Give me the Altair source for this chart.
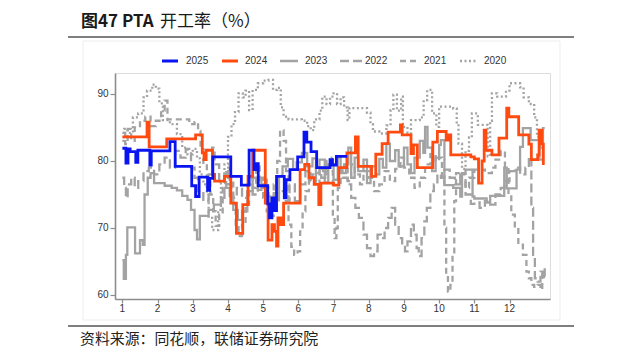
import altair as alt
import pandas as pd

TITLE_A = "图47 PTA"
TITLE_B = "开工率（%）"
SOURCE = "资料来源：同花顺，联储证券研究院"
YEARS = ["2025", "2024", "2023", "2022", "2021", "2020"]
COLORS = {"2025": "#0A14F0", "2024": "#FF4A10", "2023": "#A3A3A3",
          "2022": "#A3A3A3", "2021": "#A3A3A3", "2020": "#A3A3A3"}
DASHES = {"2025": [1, 0], "2024": [1, 0], "2023": [1, 0],
          "2022": [9, 4], "2021": [6, 4], "2020": [2, 2.5]}
X_TICKS = list(range(1, 13))
Y_TICKS = [60, 70, 80, 90]

# month position (1 = Jan 1) and operating rate (%)
x2025 = [1.0, 1.1, 1.16, 1.22, 1.38, 1.44, 1.78, 1.82, 2.35, 2.5, 2.97, 3.08, 3.18, 3.42, 3.48, 3.57,
         4.08, 4.38, 4.6, 4.74, 4.8, 4.86, 5.13, 5.18, 5.25, 5.32, 5.38, 5.6, 5.65, 5.76, 5.98, 6.16,
         6.24, 6.36, 6.52, 6.9, 6.97, 7.08, 7.38]
v2025 = [81.9, 79.7, 81.8, 81.4, 79.8, 81.6, 79.4, 81.5, 82.9, 79.2, 76.3, 74.7, 77.6, 75.6, 77.4, 80.6,
         77.7, 76.4, 81.6, 78.7, 79.6, 76.3, 73.6, 71.5, 74.5, 72.6, 77.7, 74.5, 77.2, 78.7, 80.6, 84.3,
         82.8, 81.4, 79.0, 80.2, 79.4, 80.7, 80.7]

x2024 = [1.0, 1.7, 1.76, 2.26, 3.08, 3.27, 3.32, 3.38, 3.56, 3.62, 3.9, 4.08, 4.24, 4.42, 4.57, 4.7,
         5.06, 5.14, 5.25, 5.32, 5.38, 5.42, 5.5, 5.58, 6.05, 6.18, 6.3, 6.45, 6.58, 6.64, 7.0, 7.15,
         7.38, 7.62, 7.7, 8.08, 8.2, 8.38, 8.55, 8.9, 8.95, 9.2, 9.27, 9.38, 9.82, 9.95, 10.2, 10.28,
         10.33, 10.9, 11.0, 11.12, 11.22, 11.28, 11.33, 11.5, 11.7, 11.92, 11.98, 12.26, 12.55, 12.62,
         12.8, 12.84, 12.92, 12.96, 13.0]
v2024 = [83.6, 85.8, 82.1, 83.3, 83.9, 81.2, 80.2, 81.6, 78.0, 77.0, 77.7, 73.7, 69.2, 73.5, 77.7, 81.6,
         73.7, 68.2, 70.5, 69.5, 67.3, 71.5, 70.5, 73.7, 78.7, 79.5, 77.5, 76.5, 73.5, 76.7, 76.4, 79.0,
         81.2, 83.6, 79.2, 77.7, 81.0, 82.6, 84.3, 85.4, 83.9, 81.1, 82.4, 79.0, 82.8, 84.4, 83.1, 83.9,
         80.9, 80.6, 80.3, 76.7, 80.0, 84.6, 81.6, 80.9, 83.4, 87.9, 86.6, 83.9, 82.5, 80.2, 80.9, 84.6,
         82.5, 79.6, 79.6]

x2023 = [1.0, 1.04, 1.1, 1.14, 1.36, 1.5, 1.58, 1.63, 1.72, 1.8, 1.9, 2.2, 2.4, 2.55, 2.7, 2.85, 2.95,
         3.05, 3.12, 3.2, 3.45, 3.6, 3.8, 3.9, 4.05, 4.15, 4.28, 4.4, 4.55, 4.7, 4.85, 4.95, 5.1, 5.2,
         5.3, 5.45, 5.55, 5.7, 5.85, 5.95, 6.1, 6.25, 6.4, 6.5, 6.6, 6.75, 6.85, 7.0, 7.12, 7.2, 7.35,
         7.42, 7.5, 7.6, 7.7, 7.85, 7.95, 8.05, 8.2, 8.3, 8.4, 8.5, 8.6, 8.75, 8.85, 9.0, 9.1, 9.2, 9.3,
         9.45, 9.55, 9.6, 9.67, 9.8, 9.9, 10.0, 10.05, 10.15, 10.4, 10.6, 10.65, 10.75, 10.95, 11.0,
         11.35, 11.45, 11.85, 11.92, 12.2, 12.3, 12.38, 12.6, 12.85, 12.95, 13.0]
v2023 = [65.2, 62.4, 66.0, 70.1, 66.2, 68.2, 67.5, 75.0, 77.5, 78.2, 76.7, 76.3, 76.0, 75.6, 74.8, 74.2,
         72.7, 69.7, 68.3, 71.8, 72.7, 73.5, 74.5, 76.0, 74.8, 72.7, 71.2, 72.5, 75.5, 77.5, 75.7, 77.2,
         74.7, 73.2, 75.2, 77.7, 79.2, 80.3, 78.7, 79.8, 81.2, 79.2, 80.4, 78.2, 80.2, 76.8, 79.5, 77.2,
         80.5, 78.2, 79.5, 82.0, 77.5, 80.5, 78.5, 80.2, 76.7, 79.2, 78.0, 80.3, 79.0, 82.6, 80.0, 81.6,
         79.2, 82.0, 79.5, 78.2, 80.5, 83.0, 81.2, 85.1, 82.0, 78.5, 80.5, 82.4, 83.1, 76.4, 76.0, 74.7,
         78.2, 78.7, 74.7, 74.4, 73.8, 74.8, 79.0, 75.9, 78.7, 82.1, 84.9, 83.1, 80.2, 84.9, 84.9]

x2022 = [1.0, 1.05, 1.1, 1.15, 1.25, 1.35, 1.45, 1.6, 1.75, 1.9, 2.05, 2.2, 2.35, 2.5, 2.65, 2.8, 2.95,
         3.05, 3.15, 3.3, 3.45, 3.55, 3.62, 3.75, 3.9, 4.0, 4.1, 4.25, 4.4, 4.55, 4.7, 4.85, 5.0, 5.15,
         5.3, 5.45, 5.6, 5.75, 5.9, 6.05, 6.2, 6.35, 6.5, 6.65, 6.8, 6.95, 7.1, 7.25, 7.4, 7.5, 7.62,
         7.72, 7.85, 7.95, 8.05, 8.15, 8.25, 8.35, 8.45, 8.55, 8.65, 8.75, 8.85, 8.95, 9.03, 9.1, 9.2,
         9.28, 9.36, 9.42, 9.5, 9.58, 9.65, 9.75, 9.85, 9.95, 10.05, 10.15, 10.3, 10.45, 10.6, 10.75,
         10.9, 11.0, 11.15, 11.3, 11.45, 11.6, 11.75, 11.85, 12.0, 12.15, 12.3, 12.45, 12.55, 12.62,
         12.67, 12.72, 12.8, 12.88, 12.95, 13.0]
v2022 = [77.5, 76.0, 74.5, 76.5, 77.5, 76.0, 77.0, 78.5, 79.0, 78.0, 79.5, 80.5, 79.0, 81.5, 80.5, 81.8,
         79.0, 77.5, 75.5, 74.0, 78.0, 82.0, 79.5, 77.0, 78.5, 76.5, 74.5, 76.0, 74.5, 76.5, 75.0, 77.5,
         76.0, 74.5, 73.5, 75.5, 74.0, 76.5, 74.0, 76.5, 78.5, 77.0, 79.0, 77.5, 79.5, 80.5, 79.0, 77.5,
         76.5, 74.5, 73.0, 71.5, 69.0, 67.0, 65.8, 66.5, 69.0, 68.5, 70.0, 71.5, 73.0, 70.5, 68.5, 67.5,
         66.5, 68.0, 70.5, 69.0, 67.0, 65.8, 68.5, 71.0, 73.0, 75.5, 76.5, 78.0, 77.5, 78.7, 77.5, 76.5,
         78.0, 75.0, 73.6, 73.8, 73.0, 74.0, 73.5, 75.0, 76.0, 77.0, 78.5, 79.0, 78.0, 79.0, 80.6, 73.0,
         66.0, 62.5, 62.0, 63.5, 62.5, 64.0]

x2021 = [1.0, 1.08, 1.15, 1.25, 1.35, 1.5, 1.65, 1.8, 1.95, 2.1, 2.2, 2.28, 2.9, 3.05, 3.15, 3.22, 3.3,
         3.4, 3.5, 3.58, 3.65, 3.75, 3.85, 3.95, 4.05, 4.15, 4.22, 4.3, 4.4, 4.5, 4.6, 4.7, 4.8, 4.9,
         5.0, 5.1, 5.2, 5.3, 5.4, 5.48, 5.58, 5.65, 5.72, 5.8, 5.88, 5.98, 6.05, 6.12, 6.2, 6.3, 6.4,
         6.5, 6.6, 6.7, 6.8, 6.9, 6.98, 7.03, 7.08, 7.12, 7.2, 7.3, 7.4, 7.5, 7.6, 7.75, 7.85, 8.0, 8.15,
         8.3, 8.45, 8.6, 8.75, 8.9, 9.0, 9.15, 9.3, 9.45, 9.6, 9.75, 9.9, 10.0, 10.08, 10.15, 10.2, 10.25,
         10.32, 10.38, 10.43, 10.48, 10.6, 10.75, 10.85, 11.0, 11.3, 11.5, 11.6, 11.75, 11.87, 11.97,
         12.05, 12.15, 12.25, 12.38, 12.48, 12.55, 12.62, 12.7, 12.8, 12.88, 12.93, 12.98]
v2021 = [84.2, 82.5, 84.8, 83.0, 85.0, 86.0, 86.6, 85.2, 86.0, 87.5, 89.0, 86.2, 85.5, 85.8, 84.5, 82.0,
         79.5, 77.5, 75.0, 72.5, 70.3, 72.0, 76.0, 79.0, 77.0, 73.5, 70.5, 68.8, 70.5, 73.5, 77.5, 76.0,
         79.2, 76.5, 74.5, 72.5, 71.8, 76.5, 80.0, 84.6, 83.0, 78.5, 70.5, 67.2, 66.0, 66.5, 69.5, 72.5,
         75.5, 77.5, 78.0, 76.5, 79.0, 78.0, 80.0, 78.5, 72.0, 68.5, 70.0, 76.0, 78.5, 79.5, 77.0, 79.5,
         78.0, 76.5, 78.5, 77.5, 75.5, 76.5, 78.5, 77.0, 78.8, 80.5, 79.0, 77.5, 76.0, 77.5, 79.5, 81.0,
         80.0, 80.5, 77.0, 70.0, 63.0, 60.5, 61.5, 66.0, 74.0, 78.2, 77.0, 76.0, 77.5, 78.7, 78.2, 79.0,
         80.2, 81.5, 79.0, 75.0, 72.0, 70.0, 67.5, 66.0, 63.5, 62.5, 61.5, 61.2, 61.5, 60.8, 63.5, 62.5]

x2020 = [1.0, 1.05, 1.15, 1.3, 1.45, 1.6, 1.7, 1.85, 1.95, 2.05, 2.15, 2.35, 2.55, 2.7, 2.85, 3.0, 3.12,
         3.2, 3.3, 3.4, 3.45, 3.55, 3.72, 3.8, 3.9, 4.0, 4.1, 4.2, 4.3, 4.42, 4.5, 4.6, 4.7, 4.85, 5.0,
         5.15, 5.28, 5.4, 5.5, 5.58, 5.72, 6.1, 6.25, 6.35, 6.45, 6.6, 6.68, 6.8, 6.9, 7.0, 7.1, 7.2,
         7.3, 7.4, 7.45, 7.95, 8.05, 8.12, 8.3, 8.5, 8.62, 8.7, 8.8, 8.92, 8.97, 9.1, 9.2, 9.45, 9.56,
         9.66, 9.8, 9.92, 10.0, 10.4, 10.5, 10.55, 10.65, 10.75, 10.85, 10.93, 11.1, 11.38, 11.45, 11.5,
         11.65, 11.9, 12.0, 12.3, 12.4, 12.55, 12.7, 12.78, 12.87, 12.97]
v2020 = [83.0, 84.8, 84.2, 86.5, 87.1, 89.5, 90.5, 91.4, 90.8, 88.6, 86.1, 85.5, 84.0, 82.0, 81.0, 81.8,
         80.4, 78.0, 76.5, 75.2, 71.5, 69.7, 72.7, 76.7, 79.5, 83.6, 85.5, 87.3, 90.1, 89.5, 90.5, 87.6,
         90.6, 91.6, 92.0, 92.1, 90.6, 90.9, 88.0, 86.6, 86.2, 86.0, 85.2, 84.6, 86.2, 87.5, 89.6, 88.5,
         89.6, 90.1, 88.5, 89.5, 88.0, 86.1, 87.9, 87.2, 85.5, 84.4, 84.1, 85.3, 87.6, 89.9, 87.5, 89.6,
         85.1, 84.1, 86.1, 86.5, 89.1, 90.6, 87.1, 85.1, 88.1, 87.8, 85.5, 82.6, 78.8, 81.5, 83.5, 87.1,
         85.4, 80.7, 86.0, 90.1, 89.6, 90.5, 91.6, 91.0, 89.5, 88.5, 86.5, 83.6, 82.0, 82.0]

SERIES = {"2025": (x2025, v2025), "2024": (x2024, v2024), "2023": (x2023, v2023),
          "2022": (x2022, v2022), "2021": (x2021, v2021), "2020": (x2020, v2020)}

W, H = 435, 226
X_DOMAIN = [0.79, 13.15]
Y_DOMAIN = [59.4, 93.13]
FONT = "Liberation Sans"
CJK = "Noto Sans CJK SC"

xs = alt.Scale(domain=X_DOMAIN, nice=False, zero=False)
ys = alt.Scale(domain=Y_DOMAIN, nice=False, zero=False)

X_AXIS = alt.Axis(values=X_TICKS, title=None, grid=False, domainColor="#8c8c8c",
                  domainWidth=1.6, tickColor="#8c8c8c", tickWidth=1.2, tickSize=4, labels=False)
Y_AXIS = alt.Axis(values=Y_TICKS, format="d", title=None, grid=False, domainColor="#8c8c8c",
                  domainWidth=1.6, tickColor="#8c8c8c", tickWidth=1.2, tickSize=5, labelOverlap=False,
                  labelFontSize=10, labelColor="#333333", labelFont=FONT, labelPadding=2)

layers = []

# faint frame of embedded chart image
frame = alt.Chart(pd.DataFrame({"a": [0]})).mark_rect(
    fill=None, stroke="#ededed", strokeWidth=1
).encode(x=alt.value(-32), x2=alt.value(445), y=alt.value(-32), y2=alt.value(247))
layers.append(frame)

# x tick labels (drawn as text on the x scale)
xlab = alt.Chart(pd.DataFrame({"m": X_TICKS, "v": [Y_DOMAIN[0]] * len(X_TICKS)})).mark_text(
    baseline="middle", align="center", fontSize=10, font=FONT, color="#333333", dy=10
).encode(x=alt.X("m:Q", scale=xs, axis=X_AXIS), y=alt.Y("v:Q", scale=ys, axis=Y_AXIS),
         text=alt.Text("m:Q", format="d"))
layers.append(xlab)

for yr in ["2020", "2021", "2022", "2023", "2024", "2025"]:
    xv, vv = SERIES[yr]
    df = pd.DataFrame({"x": xv, "v": vv})
    sw = 2.8 if yr in ("2024", "2025") else 2.3
    ln = alt.Chart(df).mark_line(
        interpolate="step-after", color=COLORS[yr], strokeWidth=sw,
        strokeDash=DASHES[yr], clip=True
    ).encode(x=alt.X("x:Q", scale=xs, axis=X_AXIS), y=alt.Y("v:Q", scale=ys, axis=Y_AXIS))
    layers.append(ln)

# legend
LEG_X0 = [47, 107, 165, 225, 285, 345]
LEG_X1 = [63, 123, 183, 247, 303, 363]
LEG_TX = [71, 130, 190, 250, 309, 369]
LEG_Y = -12
for i, yr in enumerate(YEARS):
    r = alt.Chart(pd.DataFrame({"a": [0]})).mark_rule(
        color=COLORS[yr], strokeWidth=2.8 if i < 2 else 2.3, strokeDash=DASHES[yr]
    ).encode(x=alt.value(LEG_X0[i]), x2=alt.value(LEG_X1[i]), y=alt.value(LEG_Y))
    t = alt.Chart(pd.DataFrame({"t": [yr]})).mark_text(
        align="left", baseline="middle", fontSize=10, font=FONT, color="#333333"
    ).encode(text="t:N", x=alt.value(LEG_TX[i]), y=alt.value(LEG_Y))
    layers += [r, t]

# title, rules, source
title_a = alt.Chart(pd.DataFrame({"t": [TITLE_A]})).mark_text(
    align="left", baseline="middle", fontSize=17, font=CJK, fontWeight="bold", color="#1a1a1a"
).encode(text="t:N", x=alt.value(-34), y=alt.value(-51))
title_b = alt.Chart(pd.DataFrame({"t": [TITLE_B]})).mark_text(
    align="left", baseline="middle", fontSize=17, font=CJK, color="#1a1a1a"
).encode(text="t:N", x=alt.value(45), y=alt.value(-51))
top_rule = alt.Chart(pd.DataFrame({"a": [0]})).mark_rule(color="#555555", strokeWidth=1.5).encode(
    x=alt.value(-47), x2=alt.value(459), y=alt.value(-36))
bot_rule = alt.Chart(pd.DataFrame({"a": [0]})).mark_rule(color="#555555", strokeWidth=1.5).encode(
    x=alt.value(-47), x2=alt.value(459), y=alt.value(253))
source = alt.Chart(pd.DataFrame({"t": [SOURCE]})).mark_text(
    align="left", baseline="middle", fontSize=14.9, font=CJK, color="#222222"
).encode(text="t:N", x=alt.value(-35), y=alt.value(267))
layers += [title_a, title_b, top_rule, bot_rule, source]

chart = alt.layer(*layers).properties(
    width=W, height=H,
    autosize=alt.AutoSizeParams(type="none"),
    padding={"left": 107, "top": 65, "right": 70, "bottom": 50},
).configure_view(stroke=None).configure(background="white")

chart.save("out.html", embed_options={"renderer": "svg", "actions": False})
